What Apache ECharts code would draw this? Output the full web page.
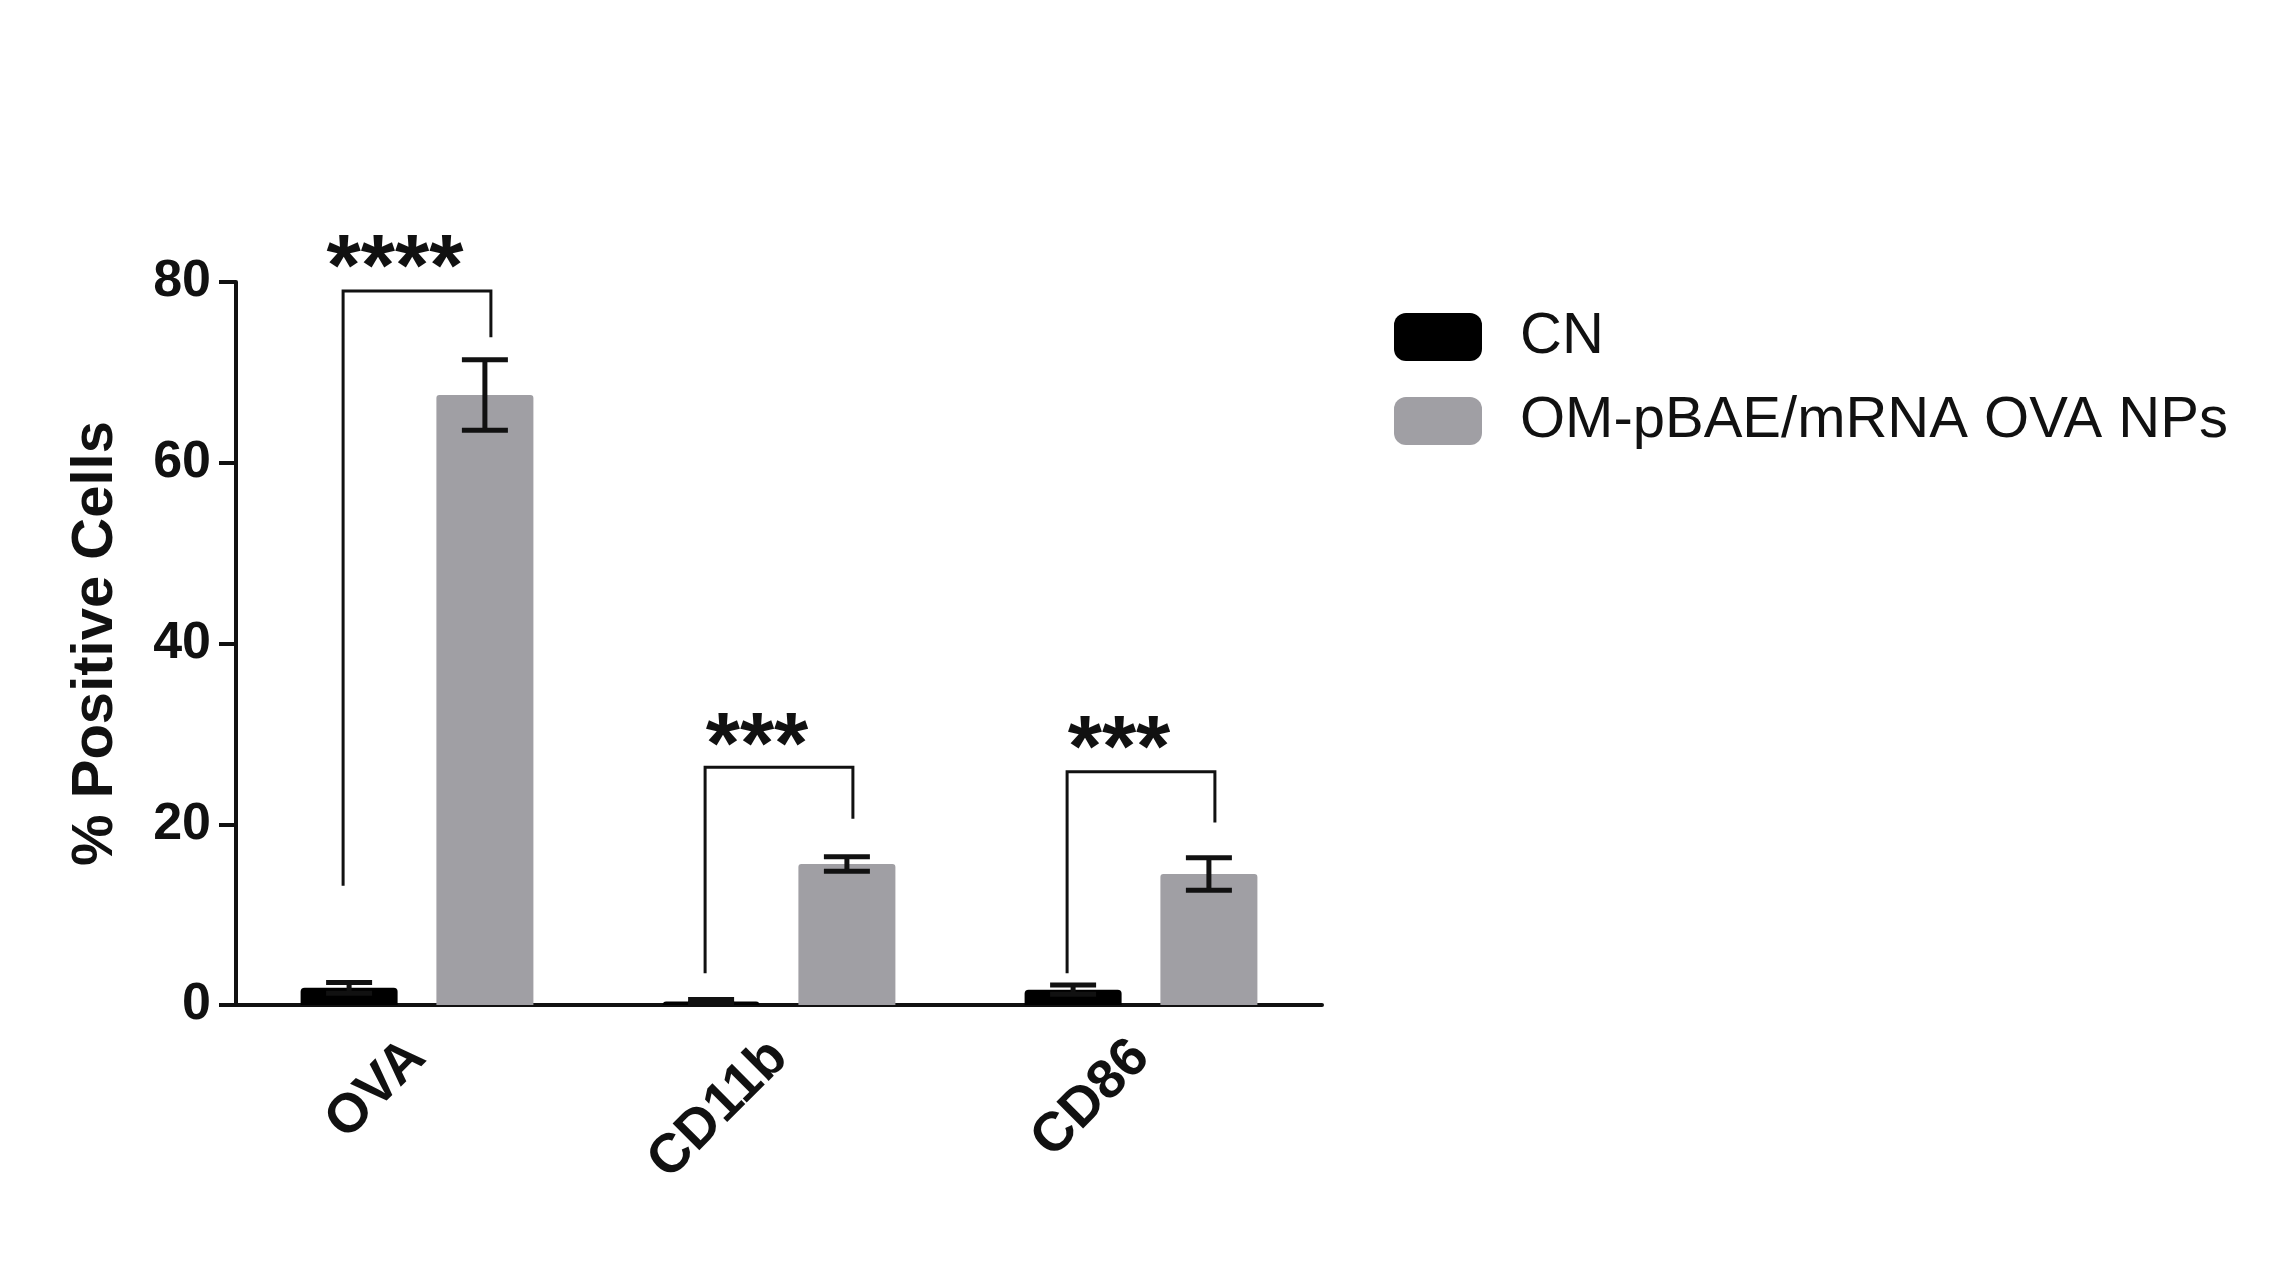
<!DOCTYPE html>
<html>
<head>
<meta charset="utf-8">
<script src="https://cdn.jsdelivr.net/npm/echarts@6/dist/echarts.min.js"></script>
<style>
html,body{margin:0;padding:0;background:#fff;}
#chart{width:2283px;height:1276px;}
</style>
</head>
<body>
<div id="chart"></div>
<script>
// ---- data ----
const categories = ['OVA', 'CD11b', 'CD86'];
const seriesNames = ['CN', 'OM-pBAE/mRNA OVA NPs'];
const cnValues = [1.9, 0.4, 1.7];
const cnErrors = [0.6, 0.2, 0.5];
const npValues = [67.5, 15.6, 14.5];
const npErrors = [3.9, 0.8, 1.8];
const yTicks = [0, 20, 40, 60, 80];
// significance brackets: left foot, top, right foot, star height, label
const bracketLeftFoot = [13.2, 3.5, 3.5];
const bracketTop = [79.0, 26.3, 25.8];
const bracketRightFoot = [73.9, 20.6, 20.2];
const starLevel = [81.2, 28.4, 28.0];
const starLabels = ['****', '***', '***'];

// ---- styling ----
const BAR_W = 97;
const BAR_GAP = 0.4;
const OFFSET = (BAR_W + BAR_W * BAR_GAP) / 2;
const FONT = '"Liberation Sans", Arial, Helvetica, sans-serif';

const chart = echarts.init(document.getElementById('chart'));

function errorRender(sign) {
  return function (params, api) {
    const i = api.value(0);
    const x = api.coord([i, 0])[0] + sign * OFFSET;
    const yLo = api.coord([i, api.value(1)])[1];
    const yHi = api.coord([i, api.value(2)])[1];
    const hw = 23;
    const st = { stroke: '#111', lineWidth: 5 };
    return {
      type: 'group',
      children: [
        { type: 'line', shape: { x1: x, y1: yLo, x2: x, y2: yHi }, style: st },
        { type: 'line', shape: { x1: x - hw, y1: yLo, x2: x + hw, y2: yLo }, style: st },
        { type: 'line', shape: { x1: x - hw, y1: yHi, x2: x + hw, y2: yHi }, style: st }
      ]
    };
  };
}

function bracketRender(params, api) {
  const i = api.value(0);
  const cx = api.coord([i, 0])[0];
  const xl = cx - OFFSET - 6;
  const xr = cx + OFFSET + 6;
  const yl = api.coord([i, api.value(1)])[1];
  const yt = api.coord([i, api.value(2)])[1];
  const yr = api.coord([i, api.value(3)])[1];
  const ys = api.coord([i, api.value(4)])[1];
  return {
    type: 'group',
    children: [
      { type: 'polyline', shape: { points: [[xl, yl], [xl, yt], [xr, yt], [xr, yr]] },
        style: { stroke: '#111', lineWidth: 3, fill: null } },
      { type: 'text', x: cx - 22, y: ys,
        style: { text: starLabels[i], fill: '#111', font: 'bold 88px ' + FONT,
                 textAlign: 'center', textVerticalAlign: 'middle' } }
    ]
  };
}

const option = {
  backgroundColor: '#ffffff',
  animation: false,
  grid: { left: 236, right: 961, top: 282, bottom: 271, containLabel: false },
  legend: {
    orient: 'vertical',
    left: 1389,
    top: 303,
    itemWidth: 88,
    itemHeight: 48,
    itemGap: 26,
    icon: 'roundRect',
    data: seriesNames,
    textStyle: { fontSize: 58, lineHeight: 58, color: '#111', fontFamily: FONT, padding: [0, 0, 0, 33] }
  },
  xAxis: {
    type: 'category',
    data: categories,
    axisLine: { lineStyle: { color: '#111', width: 4 } },
    axisTick: { alignWithLabel: true, length: 20, lineStyle: { color: '#111', width: 4 } },
    axisLabel: { rotate: 45, margin: 44, color: '#111', fontSize: 55, fontWeight: 'bold', fontFamily: FONT, interval: 0 }
  },
  yAxis: {
    type: 'value',
    min: 0, max: 80, interval: 20,
    name: '% Positive Cells',
    nameLocation: 'middle',
    nameGap: 111,
    nameRotate: 90,
    nameTextStyle: { fontSize: 58, fontWeight: 'bold', color: '#111', fontFamily: FONT },
    splitLine: { show: false },
    axisLine: { show: true, lineStyle: { color: '#111', width: 4 } },
    axisTick: { show: true, length: 17, lineStyle: { color: '#111', width: 4 } },
    axisLabel: {
      margin: 25, color: '#111', fontSize: 52, fontWeight: 'bold', fontFamily: FONT,
      formatter: v => (yTicks.indexOf(v) >= 0 ? String(v) : '')
    }
  },
  series: [
    { name: seriesNames[0], type: 'bar', data: cnValues, barWidth: BAR_W, barGap: (BAR_GAP * 100) + '%',
      itemStyle: { color: '#000000', borderRadius: [4, 4, 0, 0] } },
    { name: seriesNames[1], type: 'bar', data: npValues, barWidth: BAR_W, barGap: (BAR_GAP * 100) + '%',
      itemStyle: { color: '#a09fa4', borderRadius: [3, 3, 0, 0] } },
    { name: 'cnErr', type: 'custom', z: 10,
      data: categories.map((c, i) => [i, cnValues[i] - cnErrors[i], cnValues[i] + cnErrors[i]]),
      encode: { x: 0, y: [1, 2] }, renderItem: errorRender(-1) },
    { name: 'npErr', type: 'custom', z: 10,
      data: categories.map((c, i) => [i, npValues[i] - npErrors[i], npValues[i] + npErrors[i]]),
      encode: { x: 0, y: [1, 2] }, renderItem: errorRender(1) },
    { name: 'brackets', type: 'custom', z: 11, clip: false,
      data: categories.map((c, i) => [i, bracketLeftFoot[i], bracketTop[i], bracketRightFoot[i], starLevel[i]]),
      encode: { x: 0, y: [1, 2, 3] }, renderItem: bracketRender }
  ]
};
chart.setOption(option);
</script>
</body>
</html>
